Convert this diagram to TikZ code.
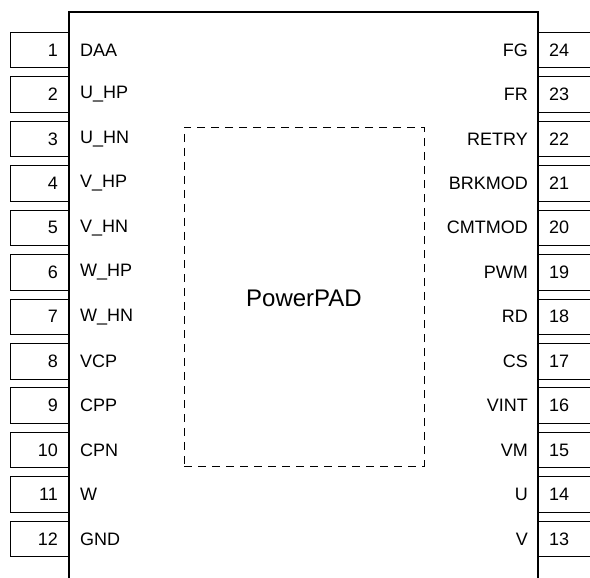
\documentclass[tikz,border=0pt]{standalone}
\usepackage{fontspec}
\setmainfont{Liberation Sans}
\begin{document}
\begin{tikzpicture}[x=1pt,y=-1pt,
  pinbox/.style={draw, line width=0.8pt, minimum height=35.5pt, inner sep=0pt},
  lbl/.style={font=\fontsize{18}{21}\selectfont, inner sep=0pt},
  bodyline/.style={line width=1.7pt},
  padline/.style={line width=0.9pt, dash pattern=on 8pt off 6pt}]
\useasboundingbox (0,0) rectangle (590,578);
% left pins
\foreach \n/\t [count=\i from 0] in {1/DAA,2/U\_HP,3/U\_HN,4/V\_HP,5/V\_HN,6/W\_HP,7/W\_HN,8/VCP,9/CPP,10/CPN,11/W,12/GND}{
  \node[pinbox, minimum width=59pt] (lp\n) at (39.5,{50+\i*44.45}) {};
  \node[lbl, anchor=east] (ln\n) at (58,{50+\i*44.45}) {\n};
  \node[lbl, anchor=west] (ll\n) at (80,{50+\i*44.45}) {\t};
}
% right pins
\foreach \n/\t [count=\i from 0] in {24/FG,23/FR,22/RETRY,21/BRKMOD,20/CMTMOD,19/PWM,18/RD,17/CS,16/VINT,15/VM,14/U,13/V}{
  \node[pinbox, minimum width=62pt] (rp\n) at (569,{50+\i*44.45}) {};
  \node[lbl, anchor=west] (rn\n) at (549,{50+\i*44.45}) {\n};
  \node[lbl, anchor=east] (rl\n) at (528,{50+\i*44.45}) {\t};
}
% body
\coordinate (bl) at (69,600);
\coordinate (tl) at (69,12);
\coordinate (tr) at (538,12);
\coordinate (br) at (538,600);
\draw[bodyline] (bl) -- (tl) -- (tr) -- (br);
% power pad
\node[padline, draw, minimum width=240pt, minimum height=339pt, inner sep=0pt] (pad) at (304,296.5) {};
\node[font=\fontsize{24}{28}\selectfont, inner sep=0pt] (padtext) at (304,298) {PowerPAD};
\end{tikzpicture}
\end{document}
